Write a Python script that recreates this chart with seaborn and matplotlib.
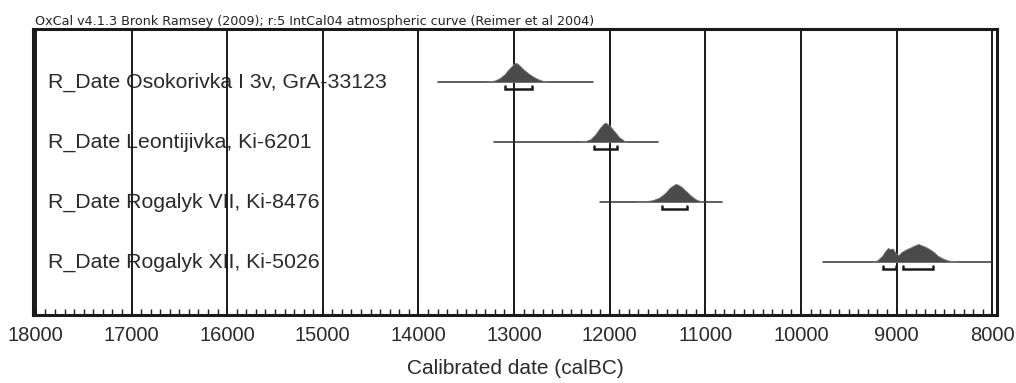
import numpy as np
import pandas as pd
import matplotlib
matplotlib.use("Agg")
import matplotlib.pyplot as plt
from matplotlib.ticker import MultipleLocator
import seaborn as sns

# Samples, top to bottom
labels = [
    "R_Date Osokorivka I 3v, GrA-33123",
    "R_Date Leontijivka, Ki-6201",
    "R_Date Rogalyk VII, Ki-8476",
    "R_Date Rogalyk XII, Ki-5026",
]

# extent of the thin horizontal line (calBC)
line_start = [13800, 13210, 12100, 9770]
line_end = [12175, 11490, 10830, 8000]

# probability distributions (calBC, relative density)
dates_0 = [13300, 13200, 13150, 13100, 13050, 13000, 12980, 12950, 12900, 12850, 12800, 12750, 12700, 12650]
dens_0 = [0, 0.08, 0.2, 0.4, 0.7, 0.95, 1.0, 0.9, 0.65, 0.45, 0.28, 0.15, 0.06, 0]
dates_1 = [12300, 12250, 12200, 12150, 12100, 12060, 12040, 12000, 11950, 11900, 11850, 11820]
dens_1 = [0, 0.05, 0.15, 0.4, 0.75, 0.97, 1.0, 0.85, 0.55, 0.25, 0.07, 0]
dates_2 = [11720, 11650, 11550, 11480, 11420, 11370, 11320, 11300, 11250, 11200, 11150, 11100, 11050, 11020]
dens_2 = [0, 0.03, 0.1, 0.25, 0.5, 0.8, 0.98, 1.0, 0.85, 0.6, 0.35, 0.15, 0.04, 0]
dates_3 = [9250, 9200, 9150, 9120, 9090, 9070, 9040, 9010, 8980, 8950, 8900, 8850,
           8800, 8770, 8740, 8700, 8650, 8610, 8570, 8520, 8470, 8420, 8360]
dens_3 = [0, 0.1, 0.35, 0.6, 0.78, 0.72, 0.75, 0.5, 0.38, 0.55, 0.7, 0.82,
          0.95, 1.0, 0.93, 0.85, 0.7, 0.55, 0.35, 0.2, 0.1, 0.04, 0]
dist_dates = [dates_0, dates_1, dates_2, dates_3]
dist_dens = [dens_0, dens_1, dens_2, dens_3]
peak_height = [0.32, 0.32, 0.30, 0.30]

# highest probability ranges drawn as brackets
ranges = [
    [(13095, 12810)],
    [(12160, 11925)],
    [(11450, 11190)],
    [(9140, 9010), (8930, 8620)],
]

title = "OxCal v4.1.3 Bronk Ramsey (2009); r:5 IntCal04 atmospheric curve (Reimer et al 2004)"

sns.set_theme(style="white")
plt.rcParams["font.family"] = ["Liberation Sans", "DejaVu Sans"]

fig = plt.figure(figsize=(10.16, 3.83), dpi=100)
ax = fig.add_axes([33 / 1016, 1 - 315 / 383, 964 / 1016, 286 / 383])

ink = "#1a1a1a"
txt = "#2a2a2a"

for i, lab in enumerate(labels):
    base = pd.DataFrame({"x": [line_start[i], line_end[i]], "y": [i, i]})
    sns.lineplot(data=base, x="x", y="y", ax=ax, color="#333333", lw=1.1, zorder=3)
    d = np.array(dist_dates[i])
    h = np.array(dist_dens[i]) * peak_height[i]
    ax.fill_between(d, i, i - h, color="#4a4a4a", lw=0.6, edgecolor="#777777", zorder=4)
    for a, b in ranges[i]:
        yb = i + 0.11
        ax.plot([a, a, b, b], [yb - 0.05, yb, yb, yb - 0.05], color=ink, lw=1.8,
                solid_joinstyle="miter", zorder=5)
    ax.text(17875, i, lab, fontsize=15.3, color=txt, va="center", ha="left", zorder=1)

ax.set_xlim(18030, 7950)
ax.set_ylim(3.883, -0.883)

for xv in range(8000, 18001, 1000):
    ax.axvline(xv, color=ink, lw=1.4, zorder=2)

ax.xaxis.set_major_locator(MultipleLocator(1000))
ax.xaxis.set_minor_locator(MultipleLocator(100))
ax.tick_params(axis="x", which="major", direction="in", length=6, width=1.4,
               color=ink, labelsize=14.5, labelcolor=txt, pad=8, bottom=True)
ax.tick_params(axis="x", which="minor", direction="in", length=4, width=1,
               color=ink, bottom=True)
ax.set_yticks([])
ax.set_ylabel("")
ax.set_xlabel("Calibrated date (calBC)", fontsize=15, color=txt, labelpad=10)

for side in ["left", "right", "top", "bottom"]:
    ax.spines[side].set_visible(True)
    ax.spines[side].set_color(ink)
    ax.spines[side].set_linewidth(2.2)

fig.text(35 / 1016, 1 - 25.5 / 383, title, fontsize=9.2, color="#222222",
         ha="left", va="baseline", family="DejaVu Sans")

fig.savefig("out.png", dpi=100)
